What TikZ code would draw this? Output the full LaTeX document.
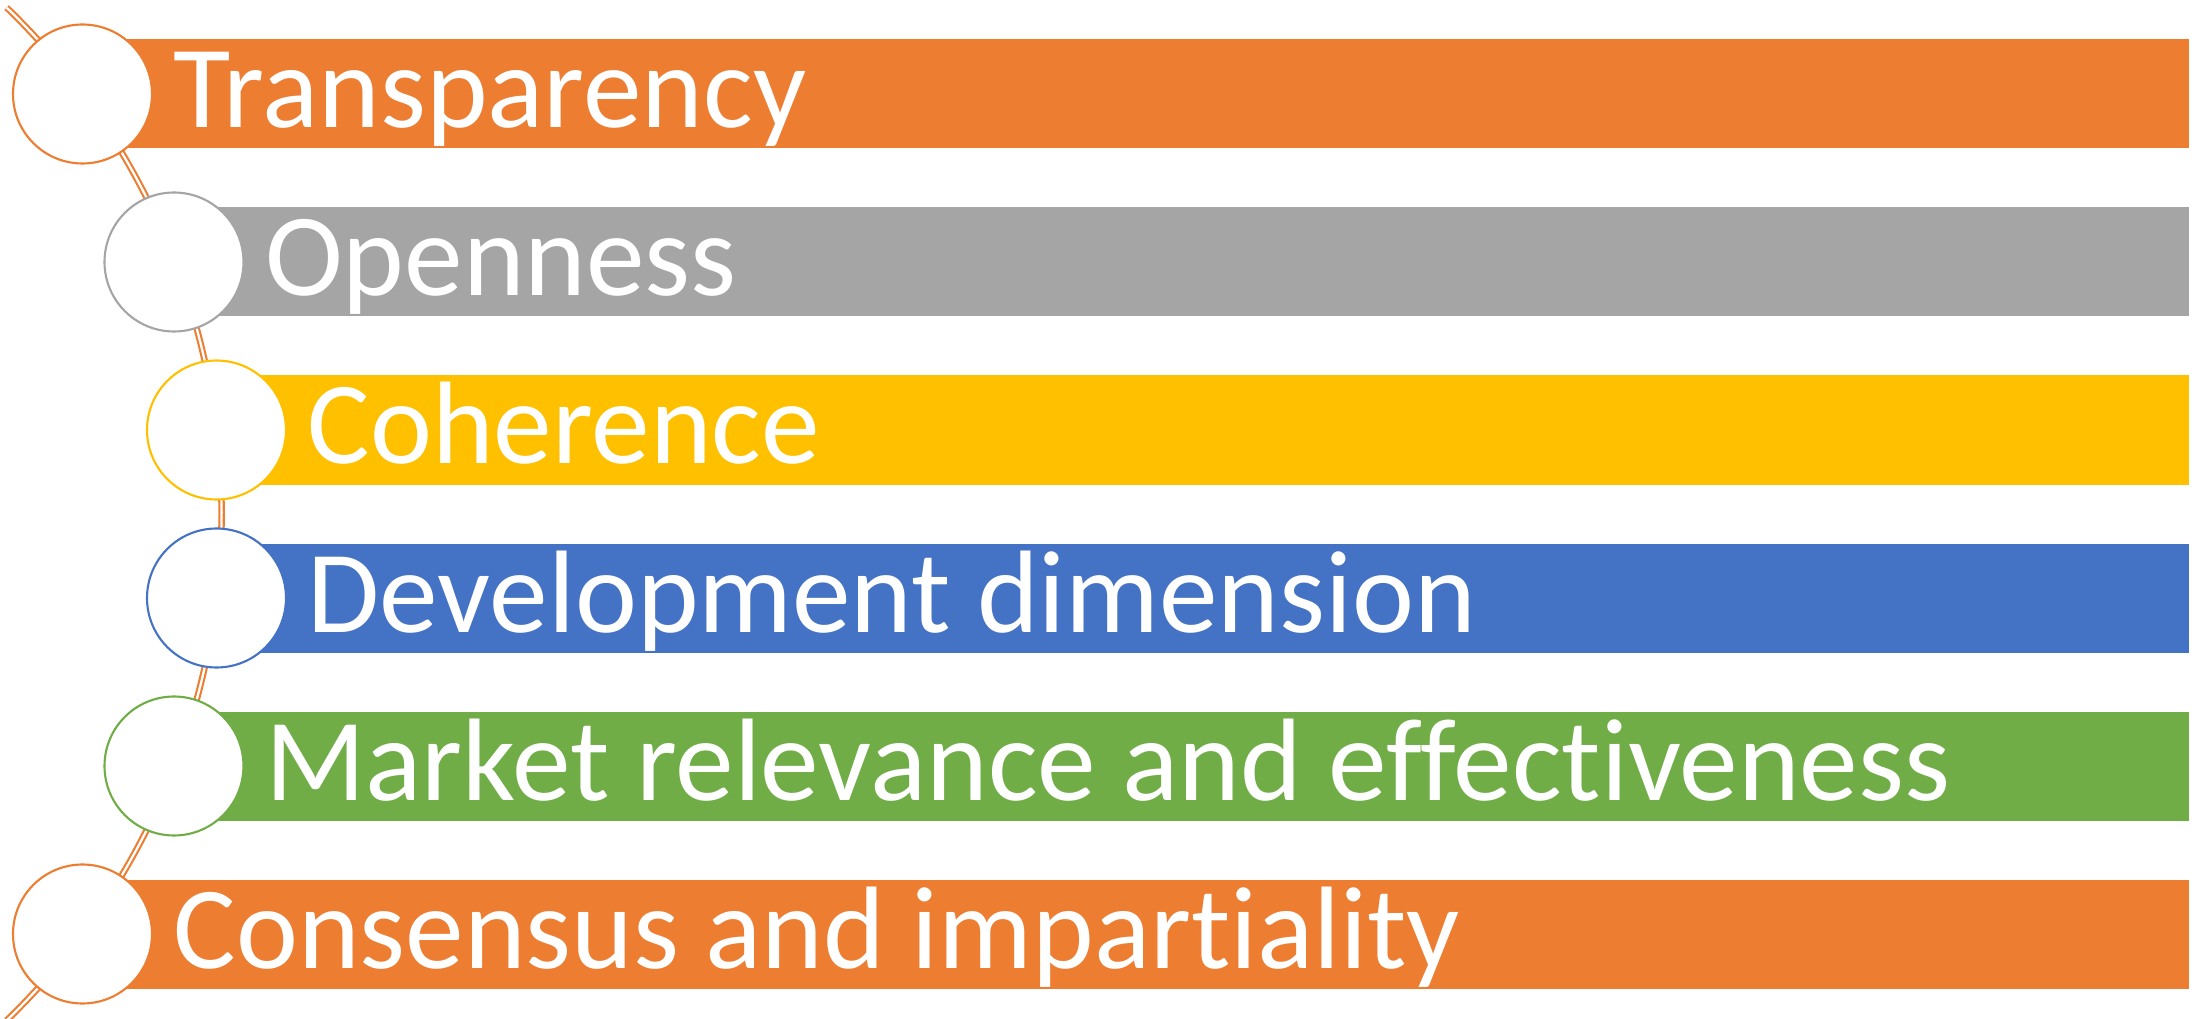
\documentclass[tikz,border=0pt]{standalone}
\usepackage{fontspec}
\setmainfont{Carlito}[RawFeature={-liga}]
\definecolor{cOrange}{HTML}{ED7D31}
\definecolor{cGray}{HTML}{A5A5A5}
\definecolor{cGold}{HTML}{FFC000}
\definecolor{cBlue}{HTML}{4472C4}
\definecolor{cGreen}{HTML}{70AD47}
\begin{document}
\begin{tikzpicture}[x=1cm,y=1cm,
  dot/.style={circle, draw=#1, line width=0.6pt, fill=white, minimum size=1.39cm, inner sep=0pt},
  lbl/.style={anchor=base west, inner sep=0pt, text=white, font=\fontsize{33.4}{40}\selectfont},
  spine/.style={draw=cOrange, double=white, line width=0.6pt, double distance=0.65pt}]
\useasboundingbox (0,0) rectangle (22.01,10.18);
\coordinate (arcc) at (-4.824,5.04);
\draw[spine] ([shift={(46:7.04)}]arcc) arc[start angle=46, end angle=-46, radius=7.04];
\foreach \cx/\cy/\col/\txt/\nm in {
  0.825/9.24/cOrange/Transparency/a,
  1.74/7.56/cGray/Openness/b,
  2.165/5.88/cGold/Coherence/c,
  2.165/4.20/cBlue/Development dimension/d,
  1.74/2.52/cGreen/Market relevance and effectiveness/e,
  0.825/0.84/cOrange/Consensus and impartiality/f}{
  \fill[\col] (\cx,\cy-0.545) rectangle (21.89,\cy+0.545);
  \node[dot=\col] (dot\nm) at (\cx,\cy) {};
  \node[lbl] (lbl\nm) at ([xshift=0.2cm, yshift=-0.34cm]dot\nm.east) {\txt};
}
\end{tikzpicture}
\end{document}
